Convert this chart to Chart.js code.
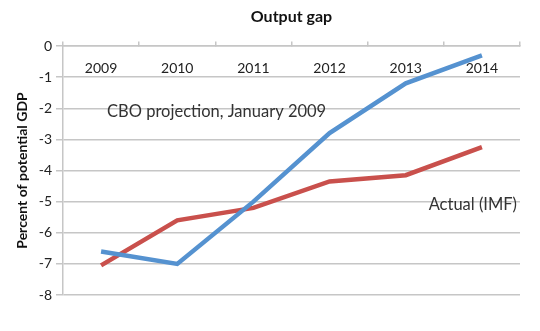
<!DOCTYPE html>
<html>
<head>
<meta charset="utf-8">
<script src="https://cdn.jsdelivr.net/npm/chart.js@4"></script>
<style>
  html, body { margin: 0; padding: 0; background: #fff; }
  #wrap { width: 540px; height: 331px; }
</style>
</head>
<body>
<div id="wrap"><canvas id="gapChart" width="540" height="331"></canvas></div>
<script>
// Data
const years = ['2009', '2010', '2011', '2012', '2013', '2014'];
const cboProjection = [-6.6, -7.0, -5.0, -2.8, -1.2, -0.3];
const actualImf = [-7.05, -5.6, -5.2, -4.35, -4.15, -3.25];
const yTicks = [0, -1, -2, -3, -4, -5, -6, -7, -8];

const gridGray = '#c6c6c6';
const fontFamily = 'Lato, "Open Sans", sans-serif';

// Title centred over plot area and the two line labels
const textPlugin = {
    id: 'textPlugin',
    afterDraw(chart) {
        const ctx = chart.ctx;
        const area = chart.chartArea;
        const x = chart.scales.x;
        const y = chart.scales.y;
        ctx.save();
        ctx.fillStyle = '#111';
        ctx.font = 'bold 16px ' + fontFamily;
        ctx.textAlign = 'center';
        ctx.textBaseline = 'middle';
        ctx.fillText('Output gap', (area.left + area.right) / 2, 17);

        ctx.fillStyle = '#333';
        ctx.font = '16.5px ' + fontFamily;
        ctx.textAlign = 'left';
        ctx.fillText('CBO projection, January 2009', x.getPixelForValue(0) + 6, y.getPixelForValue(-2.1));
        ctx.textAlign = 'right';
        ctx.fillText('Actual (IMF)', area.right - 3, y.getPixelForValue(-5.1));
        ctx.restore();
    }
};

const ctx = document.getElementById('gapChart').getContext('2d');
new Chart(ctx, {
    type: 'line',
    data: {
        labels: years,
        datasets: [{
            label: 'CBO projection, January 2009',
            data: cboProjection,
            borderColor: '#5592d0',
            borderWidth: 4.5,
            pointRadius: 0,
            tension: 0,
            fill: false
        }, {
            label: 'Actual (IMF)',
            data: actualImf,
            borderColor: '#c9504c',
            borderWidth: 4.5,
            pointRadius: 0,
            tension: 0,
            fill: false
        }]
    },
    options: {
        responsive: false,
        animation: false,
        layout: {
            padding: { left: 0, right: 20, top: 46, bottom: 36 }
        },
        plugins: {
            legend: { display: false },
            tooltip: { enabled: false },
            title: { display: false }
        },
        scales: {
            x: {
                type: 'category',
                offset: true,
                position: { y: 0 },
                grid: {
                    offset: true,
                    drawOnChartArea: false,
                    drawTicks: true,
                    tickLength: -5,
                    color: gridGray,
                    lineWidth: 1.5
                },
                border: { display: true, color: gridGray, width: 1.5 },
                ticks: {
                    color: '#222',
                    padding: 19,
                    maxRotation: 0,
                    font: { family: fontFamily, size: 14 }
                }
            },
            y: {
                min: -8,
                max: 0,
                afterBuildTicks(scale) {
                    scale.ticks = yTicks.map(v => ({ value: v }));
                },
                afterFit(scale) {
                    scale.width = 63;
                },
                grid: {
                    color: gridGray,
                    lineWidth: 1.5,
                    drawTicks: true,
                    tickLength: 7
                },
                border: { display: true, color: gridGray, width: 1.5 },
                ticks: {
                    color: '#222',
                    padding: 4,
                    font: { family: fontFamily, size: 14 }
                },
                title: {
                    display: true,
                    text: 'Percent of potential GDP',
                    color: '#111',
                    padding: { top: 14, bottom: 2 },
                    font: { family: fontFamily, size: 14, weight: 'bold' }
                }
            }
        }
    },
    plugins: [textPlugin]
});
</script>
</body>
</html>
